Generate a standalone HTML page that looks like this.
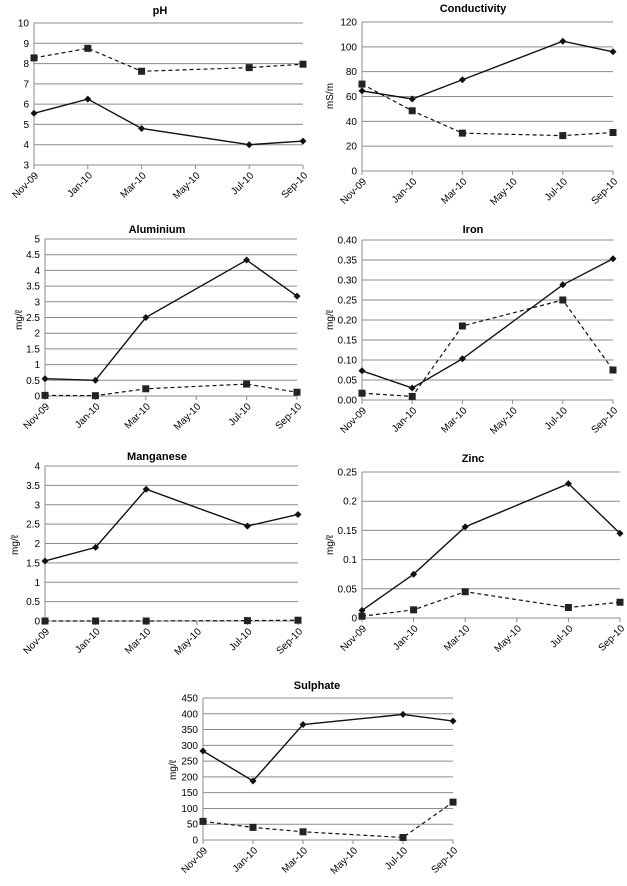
<!DOCTYPE html>
<html><head><meta charset="utf-8"><style>
html,body{margin:0;padding:0;background:#fff;}
svg{display:block;font-family:"Liberation Sans",Arial,sans-serif;}
</style></head><body>
<svg id="c" width="627" height="886" viewBox="0 0 627 886"></svg>
<script>
const months = [0,2,4,8,10];
const tickLabels = ["Nov-09","Jan-10","Mar-10","May-10","Jul-10","Sep-10"];
const phSolid = [5.55,6.25,4.8,4.0,4.18];
const phDashed = [8.28,8.75,7.62,7.8,7.97];
const condSolid = [64.5,58,73.5,104.5,96];
const condDashed = [70,48.5,30.5,28.5,31];
const alSolid = [0.55,0.5,2.5,4.33,3.18];
const alDashed = [0.02,0.01,0.23,0.38,0.12];
const feSolid = [0.073,0.03,0.103,0.288,0.353];
const feDashed = [0.017,0.009,0.185,0.25,0.075];
const mnSolid = [1.55,1.9,3.4,2.45,2.75];
const mnDashed = [0,0,0,0.01,0.02];
const znSolid = [0.013,0.075,0.156,0.23,0.145];
const znDashed = [0.003,0.014,0.045,0.018,0.027];
const so4Solid = [282,187,366,398,377];
const so4Dashed = [59,40,26,8,120];
const phTicks = ["3","4","5","6","7","8","9","10"];
const condTicks = ["0","20","40","60","80","100","120"];
const alTicks = ["0","0.5","1","1.5","2","2.5","3","3.5","4","4.5","5"];
const feTicks = ["0.00","0.05","0.10","0.15","0.20","0.25","0.30","0.35","0.40"];
const mnTicks = ["0","0.5","1","1.5","2","2.5","3","3.5","4"];
const znTicks = ["0","0.05","0.1","0.15","0.2","0.25"];
const so4Ticks = ["0","50","100","150","200","250","300","350","400","450"];

const svg=document.getElementById('c');
const NS="http://www.w3.org/2000/svg";
function mk(tag,attrs,parent){const e=document.createElementNS(NS,tag);for(const k in attrs)e.setAttribute(k,attrs[k]);parent.appendChild(e);return e;}

function chart(name,title,ylabel,ticks,solid,dashed,L,R,T,B,tx,ty,yl){
  const g=mk('g',{},svg);
  
  
  const ymin=parseFloat(ticks[0]),ymax=parseFloat(ticks[ticks.length-1]);
  const y=v=>B-(v-ymin)/(ymax-ymin)*(B-T);
  const x=m=>L+m/10*(R-L);
  const t=mk('text',{x:tx,y:ty,'text-anchor':'middle','font-size':'11','font-weight':'bold',fill:'#000'},g);
  t.textContent=title;
  
  
  ticks.forEach(s=>{
    const v=parseFloat(s),yy=y(v);
    const gl=mk('line',{x1:L,x2:R,y1:yy,y2:yy,stroke:'#8c8c8c','stroke-width':'1'},g);
    
    
    const lb=mk('text',{x:L-5,y:yy+3.5,'text-anchor':'end','font-size':'10',fill:'#000'},g);
    lb.textContent=s;
    
    
  });
  mk('line',{x1:L,x2:L,y1:T,y2:B,stroke:'#8c8c8c'},g);
  tickLabels.forEach((s,i)=>{
    const xx=x(i*2);
    mk('line',{x1:xx,x2:xx,y1:B,y2:B+4,stroke:'#8c8c8c'},g);
    const lx=xx+5,ly=B+11;
    const lb=mk('text',{x:lx,y:ly,'text-anchor':'end','font-size':'10',fill:'#000',transform:`rotate(-45 ${lx} ${ly})`},g);
    lb.textContent=s;
    
    
  });
  if(ylabel){
    const yt=mk('text',{x:yl[0],y:yl[1],'text-anchor':'middle','font-size':'10',fill:'#000',transform:`rotate(-90 ${yl[0]} ${yl[1]})`},g);
    yt.textContent=ylabel;
    
    
  }
  const pd=dashed.map((v,i)=>x(months[i])+','+y(v)).join(' ');
  const dl=mk('polyline',{points:pd,fill:'none',stroke:'#111','stroke-width':'1.2','stroke-dasharray':'4,3'},g);
  
  
  const ps=solid.map((v,i)=>x(months[i])+','+y(v)).join(' ');
  const sl=mk('polyline',{points:ps,fill:'none',stroke:'#111','stroke-width':'1.4'},g);
  
  
  dashed.forEach((v,i)=>{
    const r=mk('rect',{x:x(months[i])-3.5,y:y(v)-3.5,width:7,height:7,fill:'#222'},g);
    
    
  });
  solid.forEach((v,i)=>{
    const cx=x(months[i]),cy=y(v);
    const p=mk('polygon',{points:`${cx},${cy-3.5} ${cx+3.5},${cy} ${cx},${cy+3.5} ${cx-3.5},${cy}`,fill:'#111'},g);
    
    
  });
}
chart('ph','pH',null,phTicks,phSolid,phDashed,34,303,23,165,160,14,null);
chart('conductivity','Conductivity','mS/m',condTicks,condSolid,condDashed,362,613,22,171,473,12,[333,96]);
chart('aluminium','Aluminium','mg/ℓ',alTicks,alSolid,alDashed,45,297,239,396,157,233,[22,320]);
chart('iron','Iron','mg/ℓ',feTicks,feSolid,feDashed,362,613,240,400,473,233,[333,320]);
chart('manganese','Manganese','mg/ℓ',mnTicks,mnSolid,mnDashed,45,298,466,621,157,460,[18,545]);
chart('zinc','Zinc','mg/ℓ',znTicks,znSolid,znDashed,362,620,472,618,473,462,[333,545]);
chart('sulphate','Sulphate','mg/ℓ',so4Ticks,so4Solid,so4Dashed,203,453,698,840,317,689,[176,770]);
</script>
</body></html>
